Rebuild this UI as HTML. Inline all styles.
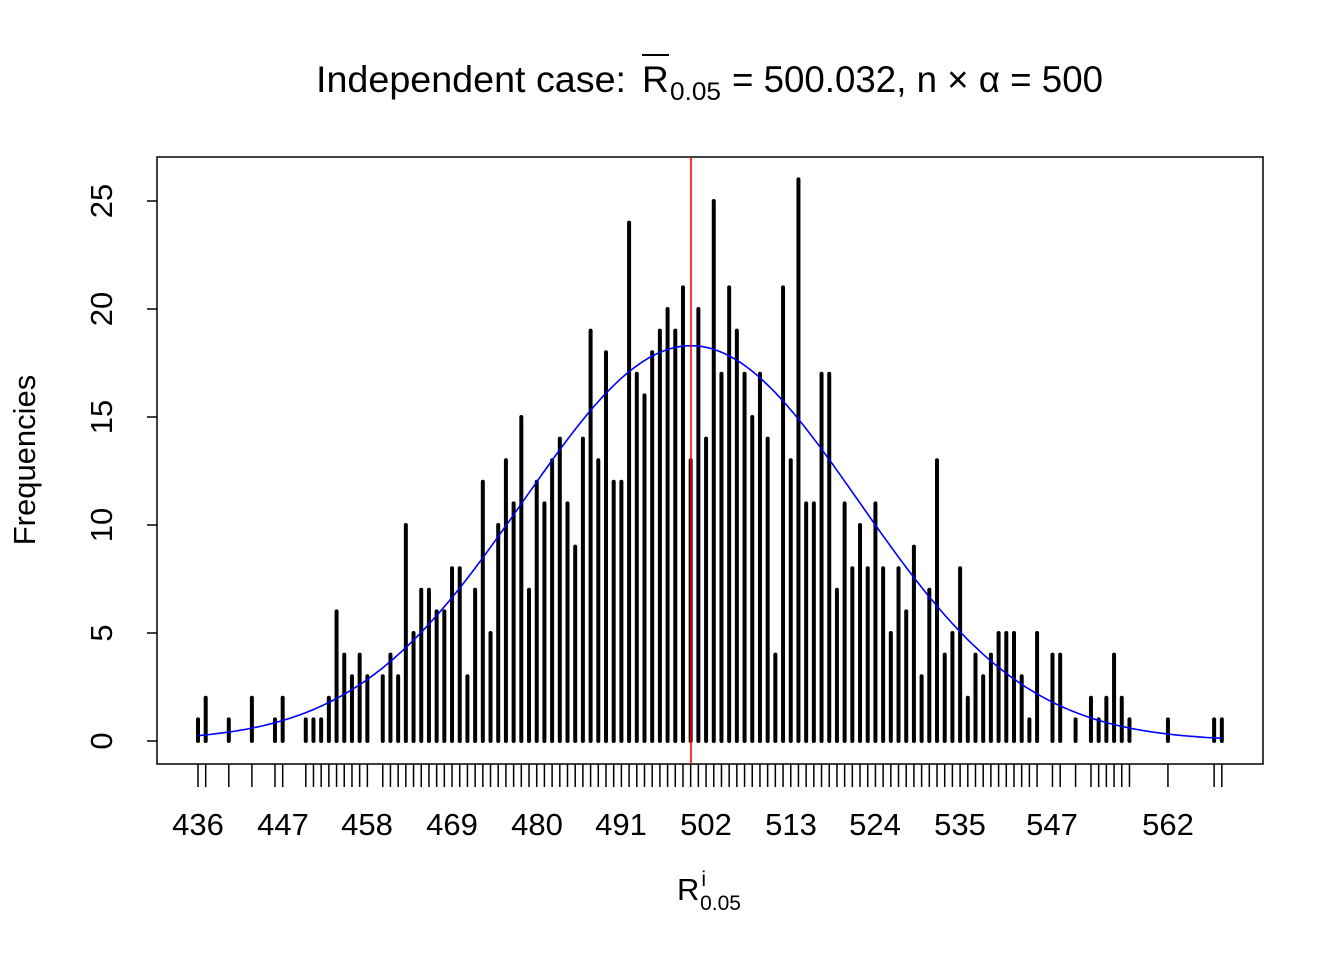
<!DOCTYPE html>
<html><head><meta charset="utf-8"><style>
html,body{margin:0;padding:0;background:#fff;}
svg{display:block;font-family:"Liberation Sans",Arial,sans-serif;}
</style></head><body>
<svg id="s" width="1344" height="960" viewBox="0 0 1344 960" xmlns="http://www.w3.org/2000/svg">
<rect width="1344" height="960" fill="#fff"/>
<text x="316" y="92" font-size="37" textLength="310" lengthAdjust="spacingAndGlyphs">Independent case:</text>
<text x="642" y="92" font-size="37">R</text>
<text x="670" y="100" font-size="25" textLength="51" lengthAdjust="spacingAndGlyphs">0.05</text>
<text x="732" y="92" font-size="37" textLength="371" lengthAdjust="spacingAndGlyphs">= 500.032, n × α = 500</text>
<line x1="642" y1="55" x2="669" y2="55" stroke="#000" stroke-width="2"/>
<rect x="157" y="157" width="1106" height="607" fill="none" stroke="#000" stroke-width="1.5"/>
<g id="bars" stroke="#000" stroke-width="4" stroke-linecap="round"></g>
<g id="ticks" stroke="#000" stroke-width="1.5"></g>
<path id="curve" fill="none" stroke="#0000ff" stroke-width="1.6"/>
<line x1="691" y1="157" x2="691" y2="764" stroke="#ff0000" stroke-width="1.6"/>
<g stroke="#000" stroke-width="1.5">
<line x1="147" y1="741" x2="157" y2="741"/><line x1="147" y1="633" x2="157" y2="633"/>
<line x1="147" y1="525" x2="157" y2="525"/><line x1="147" y1="417" x2="157" y2="417"/>
<line x1="147" y1="309" x2="157" y2="309"/><line x1="147" y1="201" x2="157" y2="201"/>
</g>
<g font-size="31" text-anchor="middle">
<text transform="translate(112,741) rotate(-90)">0</text>
<text transform="translate(112,633) rotate(-90)">5</text>
<text transform="translate(112,525) rotate(-90)">10</text>
<text transform="translate(112,417) rotate(-90)">15</text>
<text transform="translate(112,309) rotate(-90)">20</text>
<text transform="translate(112,201) rotate(-90)">25</text>
<text transform="translate(35,460) rotate(-90)">Frequencies</text>
<text x="198" y="835">436</text><text x="283" y="835">447</text><text x="367" y="835">458</text>
<text x="452" y="835">469</text><text x="537" y="835">480</text><text x="621" y="835">491</text>
<text x="706" y="835">502</text><text x="791" y="835">513</text><text x="875" y="835">524</text>
<text x="960" y="835">535</text><text x="1052" y="835">547</text><text x="1168" y="835">562</text>
</g>
<text x="677" y="900" font-size="31">R<tspan font-size="21" dx="2" dy="-14">i</tspan><tspan font-size="21" dx="-6" dy="24">0.05</tspan></text>
</svg>
<script>
var d={436:1,437:2,440:1,443:2,446:1,447:2,450:1,451:1,452:1,453:2,454:6,455:4,456:3,457:4,458:3,
460:3,461:4,462:3,463:10,464:5,465:7,466:7,467:6,468:6,469:8,470:8,471:3,472:7,473:12,474:5,475:10,476:13,477:11,478:15,479:7,480:12,481:11,482:13,483:14,484:11,485:9,486:14,487:19,488:13,489:18,490:12,491:12,492:24,493:17,494:16,495:18,496:19,497:20,498:19,499:21,500:13,501:20,502:14,503:25,504:17,505:21,506:19,507:17,508:15,509:17,510:14,511:4,512:21,513:13,514:26,515:11,516:11,517:17,518:17,519:7,520:11,521:8,522:10,523:8,524:11,525:8,526:5,527:8,528:6,529:9,530:3,531:7,532:13,533:4,534:5,535:8,
536:2,537:4,538:3,539:4,540:5,541:5,542:5,543:3,544:1,545:5,547:4,548:4,550:1,552:2,553:1,554:2,555:4,556:2,557:1,562:1,568:1,569:1};
var NS="http://www.w3.org/2000/svg";
function X(v){return 198+(v-436)*7.698;}
function Y(f){return 741-f*21.6;}
var b=document.getElementById("bars"),t=document.getElementById("ticks");
for(var k in d){var v=+k,x=X(v);
var l=document.createElementNS(NS,"line");l.setAttribute("x1",x);l.setAttribute("x2",x);l.setAttribute("y1",741);l.setAttribute("y2",Y(d[k]));b.appendChild(l);
var m=document.createElementNS(NS,"line");m.setAttribute("x1",x);m.setAttribute("x2",x);m.setAttribute("y1",764);m.setAttribute("y2",787);t.appendChild(m);}
var p="";for(var v=436;v<=569;v+=0.5){var f=18.3*Math.exp(-Math.pow(v-500.032,2)/(2*21.8*21.8));p+=(p?"L":"M")+X(v).toFixed(1)+","+Y(f).toFixed(1);}
document.getElementById("curve").setAttribute("d",p);
</script>
</body></html>
